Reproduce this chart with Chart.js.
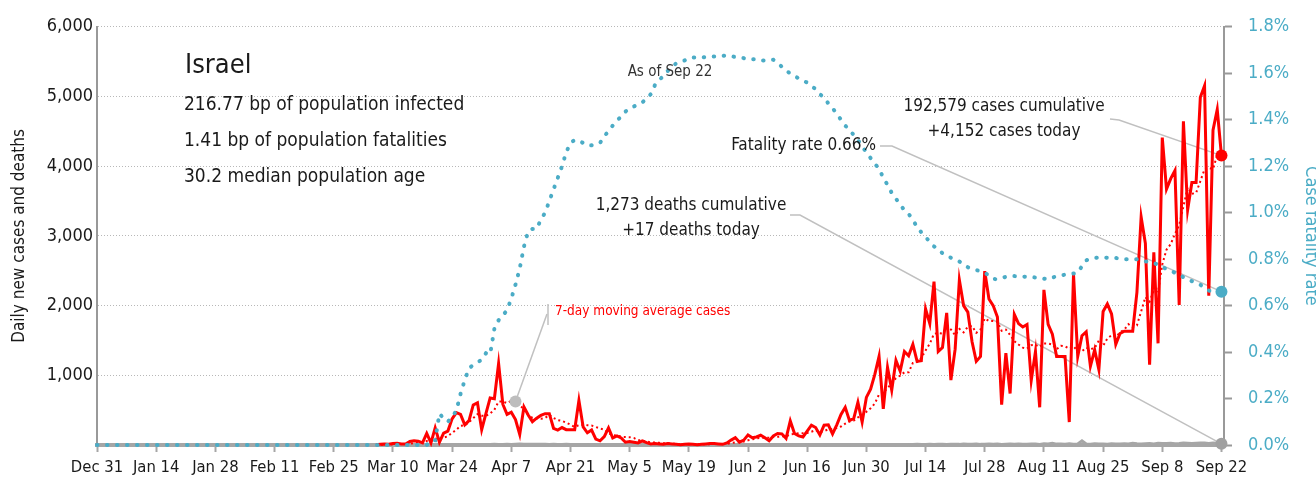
<!DOCTYPE html>
<html>
<head>
<meta charset="utf-8">
<title>Israel: daily new cases and deaths</title>
<script src="https://cdn.jsdelivr.net/npm/chart.js@4.4.0/dist/chart.umd.min.js"></script>
<style>
  html, body { margin: 0; padding: 0; background: #fff; }
  canvas { display: block; }
</style>
</head>
<body>
<canvas id="chart" width="1316" height="487"></canvas>
<script>
// x axis is a day count, day 0 = Dec 31
const tickDays = [0, 14, 28, 42, 56, 70, 84, 98, 112, 126, 140, 154, 168, 182, 196, 210, 224, 238, 252, 266];
const tickLabels = ['Dec 31', 'Jan 14', 'Jan 28', 'Feb 11', 'Feb 25', 'Mar 10', 'Mar 24', 'Apr 7', 'Apr 21', 'May 5',
  'May 19', 'Jun 2', 'Jun 16', 'Jun 30', 'Jul 14', 'Jul 28', 'Aug 11', 'Aug 25', 'Sep 8', 'Sep 22'];

// cases, moving average and deaths start on day 66 (Mar 6)
const seriesStart = 66;

const cases = [
  5, 10, 15, 10, 20, 25, 15, 15, 50, 60,
  55, 30, 167, 30, 245, 40, 170, 200, 375, 465,
  440, 290, 350, 575, 605, 220, 450, 675, 665, 1170,
  585, 440, 470, 365, 150, 545, 430, 335, 385, 425,
  450, 450, 240, 215, 250, 220, 220, 220, 640, 260,
  175, 215, 85, 60, 120, 245, 100, 130, 100, 40,
  50, 40, 30, 60, 35, 15, 20, 15, 10, 20,
  15, 10, 5, 10, 15, 10, 5, 10, 15, 20,
  20, 15, 10, 30, 70, 105, 40, 70, 145, 105,
  115, 140, 105, 60, 130, 165, 160, 95, 345, 165,
  130, 115, 200, 285, 250, 145, 285, 290, 160, 290,
  437, 540, 353, 377, 612, 330, 683, 800, 1012, 1270,
  518, 1115, 786, 1214, 1059, 1341, 1280, 1445, 1200, 1210,
  1953, 1741, 2344, 1341, 1398, 1896, 932, 1375, 2367, 2000,
  1906, 1482, 1200, 1270, 2494, 2094, 2000, 1835, 579, 1318,
  739, 1873, 1741, 1694, 1730, 927, 1341, 541, 2226, 1730,
  1590, 1270, 1270, 1270, 329, 2447, 1270, 1567, 1624, 1129,
  1365, 1082, 1915, 2024, 1880, 1445, 1600, 1633, 1633, 1633,
  2188, 3271, 2894, 1153, 2763, 1459, 4410, 3671, 3822, 3939,
  2009, 4645, 3374, 3765, 3765, 4988, 5153, 2142, 4518, 4814,
  4152,
];

const movingAvg = [
  1, 2, 4, 6, 9, 12, 14, 16, 21, 28,
  34, 36, 56, 58, 91, 90, 105, 126, 175, 218,
  276, 283, 327, 385, 443, 421, 419, 452, 506, 623,
  624, 601, 636, 624, 549, 532, 426, 391, 383, 376,
  389, 431, 388, 357, 345, 321, 292, 259, 286, 289,
  284, 279, 259, 236, 222, 166, 143, 136, 120, 114,
  112, 101, 70, 64, 51, 39, 36, 31, 26, 25,
  19, 15, 14, 12, 12, 12, 10, 9, 10, 12,
  14, 14, 14, 17, 26, 39, 41, 49, 67, 81,
  93, 103, 103, 106, 114, 117, 125, 122, 151, 160,
  170, 168, 173, 191, 213, 184, 201, 224, 231, 244,
  265, 307, 336, 350, 396, 420, 476, 528, 595, 726,
  746, 818, 883, 959, 996, 1043, 1045, 1177, 1189, 1250,
  1355, 1453, 1596, 1605, 1598, 1698, 1658, 1575, 1665, 1616,
  1696, 1708, 1609, 1657, 1817, 1778, 1778, 1768, 1639, 1656,
  1580, 1491, 1441, 1397, 1382, 1432, 1435, 1407, 1457, 1456,
  1441, 1375, 1424, 1414, 1384, 1415, 1349, 1346, 1397, 1377,
  1390, 1498, 1422, 1529, 1574, 1549, 1616, 1654, 1733, 1693,
  1716, 1915, 2122, 2058, 2219, 2194, 2591, 2803, 2882, 3031,
  3153, 3422, 3696, 3604, 3617, 3784, 3957, 3976, 3958, 4164,
  4219,
];

const deaths = [
  0, 0, 0, 0, 0, 0, 0, 0, 0, 0,
  0, 0, 0, 0, 1, 0, 0, 0, 1, 1,
  2, 3, 3, 4, 5, 4, 5, 6, 9, 8,
  8, 9, 7, 10, 14, 12, 10, 9, 11, 10,
  9, 8, 12, 7, 8, 9, 6, 5, 7, 4,
  5, 6, 4, 3, 5, 4, 2, 3, 3, 2,
  2, 1, 2, 3, 2, 1, 1, 0, 2, 1,
  1, 0, 1, 2, 0, 1, 0, 1, 0, 0,
  1, 0, 0, 1, 0, 1, 0, 0, 2, 1,
  0, 1, 0, 0, 1, 0, 1, 0, 2, 1,
  0, 1, 2, 1, 2, 1, 0, 2, 3, 2,
  3, 2, 1, 4, 3, 2, 4, 3, 5, 4,
  6, 5, 4, 7, 6, 8, 5, 7, 9, 6,
  8, 10, 7, 9, 12, 8, 10, 11, 9, 13,
  10, 12, 14, 9, 11, 13, 10, 15, 8, 12,
  14, 11, 16, 12, 10, 15, 13, 9, 17, 14,
  26, 13, 15, 11, 18, 12, 16, 60, 14, 12,
  17, 13, 15, 11, 18, 14, 16, 19, 15, 26,
  17, 14, 19, 21, 16, 24, 20, 22, 26, 18,
  21, 28, 24, 20, 25, 30, 27, 23, 29, 26,
  17,
];

// case fatality rate in percent, from day 0
const fatalityRate = [
  0, 0, 0, 0, 0, 0, 0, 0, 0, 0,
  0, 0, 0, 0, 0, 0, 0, 0, 0, 0,
  0, 0, 0, 0, 0, 0, 0, 0, 0, 0,
  0, 0, 0, 0, 0, 0, 0, 0, 0, 0,
  0, 0, 0, 0, 0, 0, 0, 0, 0, 0,
  0, 0, 0, 0, 0, 0, 0, 0, 0, 0,
  0, 0, 0, 0, 0, 0, 0, 0, 0, 0,
  0, 0, 0, 0, 0, 0, 0, 0, 0, 0.02,
  0.02, 0.135, 0.114, 0.10, 0.12, 0.148, 0.22, 0.28, 0.33, 0.345,
  0.355, 0.367, 0.395, 0.39, 0.50, 0.537, 0.558, 0.58, 0.63, 0.69,
  0.76, 0.854, 0.92, 0.93, 0.93, 0.97, 1.00, 1.05, 1.10, 1.15,
  1.20, 1.26, 1.30, 1.313, 1.31, 1.30, 1.289, 1.29, 1.295, 1.30,
  1.33, 1.35, 1.375, 1.395, 1.415, 1.435, 1.45, 1.457, 1.466, 1.475,
  1.49, 1.51, 1.55, 1.57, 1.59, 1.61, 1.625, 1.643, 1.65, 1.655,
  1.665, 1.668, 1.668, 1.668, 1.67, 1.672, 1.672, 1.674, 1.675, 1.677,
  1.674, 1.67, 1.668, 1.665, 1.66, 1.66, 1.66, 1.655, 1.655, 1.658,
  1.658, 1.645, 1.628, 1.61, 1.60, 1.588, 1.578, 1.568, 1.56, 1.545,
  1.532, 1.51, 1.495, 1.47, 1.45, 1.425, 1.40, 1.375, 1.355, 1.335,
  1.313, 1.285, 1.26, 1.235, 1.21, 1.19, 1.15, 1.12, 1.085, 1.06,
  1.035, 1.01, 0.995, 0.967, 0.94, 0.915, 0.895, 0.875, 0.855, 0.845,
  0.825, 0.815, 0.806, 0.80, 0.79, 0.777, 0.765, 0.758, 0.753, 0.748,
  0.741, 0.73, 0.715, 0.713, 0.718, 0.724, 0.726, 0.727, 0.726, 0.725,
  0.724, 0.723, 0.721, 0.72, 0.716, 0.713, 0.72, 0.727, 0.73, 0.733,
  0.734, 0.738, 0.741, 0.77, 0.795, 0.80, 0.805, 0.807, 0.807, 0.806,
  0.805, 0.805, 0.802, 0.80, 0.80, 0.80, 0.80, 0.796, 0.79, 0.788,
  0.784, 0.775, 0.765, 0.758, 0.75, 0.741, 0.733, 0.722, 0.713, 0.705,
  0.699, 0.69, 0.675, 0.665, 0.658, 0.66, 0.66,
];

const country = 'Israel';
const stats = ['216.77 bp of population infected', '1.41 bp of population fatalities', '30.2 median population age'];
const asOf = 'Sep 22';
const cumulativeCases = 192579;
const cumulativeDeaths = 1273;
const calloutDay = 99; // where the moving-average label points

const RED = '#ff0000';
const TEAL = '#4bacc6';
const GREY = '#a6a6a6';
const INK = '#1a1a1a';
const FONT = "'DejaVu Sans Condensed', 'Liberation Sans Narrow', sans-serif";

const lastDay = seriesStart + cases.length - 1;
const fmt = n => n.toLocaleString('en-US');
const fromStart = arr => arr.map((y, i) => ({ x: seriesStart + i, y }));
const endOnly = (n, r) => ctx => (ctx.index === n - 1 ? r : 0);

const line = (label, data, extra) => ({
  label,
  data,
  fill: false,
  tension: 0,
  clip: false,
  pointBorderWidth: 0,
  pointHoverRadius: 0,
  ...extra,
});

// leader lines under the data, text on top of everything
const annotations = {
  id: 'annotations',
  beforeDatasetsDraw(chart) {
    const { ctx, scales: { x, y, y1 } } = chart;
    const xEnd = x.getPixelForValue(lastDay);
    const path = (pts) => {
      ctx.beginPath();
      ctx.moveTo(pts[0][0], pts[0][1]);
      pts.slice(1).forEach(p => ctx.lineTo(p[0], p[1]));
      ctx.stroke();
    };
    ctx.save();
    ctx.strokeStyle = '#c0c0c0';
    ctx.lineWidth = 1.5;
    path([[1110, 119], [1119, 120], [xEnd, y.getPixelForValue(cases[cases.length - 1])]]);
    path([[880, 146], [892, 146], [xEnd, y1.getPixelForValue(fatalityRate[fatalityRate.length - 1])]]);
    path([[790, 215], [800, 215], [xEnd, y.getPixelForValue(deaths[deaths.length - 1])]]);
    path([[548, 304], [548, 325]]);
    path([[547, 314], [x.getPixelForValue(calloutDay), y.getPixelForValue(movingAvg[calloutDay - seriesStart])]]);
    ctx.restore();
  },
  afterDraw(chart) {
    const { ctx } = chart;
    const text = (str, px, py, size, align = 'left', color = INK) => {
      ctx.font = `${size}px ${FONT}`;
      ctx.fillStyle = color;
      ctx.textAlign = align;
      ctx.fillText(str, px, py);
    };
    ctx.save();
    ctx.textBaseline = 'middle';
    text(country, 185, 66, 27);
    stats.forEach((s, i) => text(s, 184, 105 + i * 36, 19));
    text('As of ' + asOf, 670, 72, 15, 'center', '#333');
    text(fmt(cumulativeCases) + ' cases cumulative', 1004, 107, 17, 'center');
    text('+' + fmt(cases[cases.length - 1]) + ' cases today', 1004, 132, 17, 'center');
    text('Fatality rate ' + fatalityRate[fatalityRate.length - 1].toFixed(2) + '%', 876, 146, 17, 'right');
    text(fmt(cumulativeDeaths) + ' deaths cumulative', 691, 206, 17, 'center');
    text('+' + fmt(deaths[deaths.length - 1]) + ' deaths today', 691, 231, 17, 'center');
    text('7-day moving average cases', 555, 311, 13.5, 'left', RED);
    ctx.restore();
  },
};

new Chart(document.getElementById('chart'), {
  type: 'line',
  data: {
    datasets: [
      line('Case fatality rate', fatalityRate.map((y, i) => ({ x: i, y })), {
        yAxisID: 'y1',
        borderColor: TEAL,
        borderWidth: 4,
        borderDash: [0.5, 9.5],
        borderCapStyle: 'round',
        pointRadius: endOnly(fatalityRate.length, 6),
        pointBackgroundColor: TEAL,
      }),
      line('7-day moving average cases', fromStart(movingAvg), {
        borderColor: RED,
        borderWidth: 2,
        borderDash: [2, 3],
        pointRadius: ctx => (ctx.index === calloutDay - seriesStart ? 6 : 0),
        pointBackgroundColor: '#bdbdbd',
      }),
      line('Daily new cases', fromStart(cases), {
        borderColor: RED,
        borderWidth: 3,
        borderJoinStyle: 'miter',
        pointRadius: endOnly(cases.length, 6),
        pointBackgroundColor: RED,
      }),
      line('Daily deaths', fromStart(deaths), {
        borderColor: GREY,
        borderWidth: 3,
        pointRadius: endOnly(deaths.length, 6),
        pointBackgroundColor: '#a0a0a0',
      }),
    ],
  },
  options: {
    responsive: false,
    animation: false,
    devicePixelRatio: 1,
    events: [],
    layout: { padding: { top: 20, left: 0, right: 0, bottom: 0 } },
    plugins: { legend: { display: false }, tooltip: { enabled: false } },
    scales: {
      x: {
        type: 'linear',
        min: 0,
        max: 266.6,
        afterBuildTicks: s => { s.ticks = tickDays.map(v => ({ value: v })); },
        afterFit: s => { s.height = 42; },
        grid: { drawOnChartArea: false, tickLength: 7, tickColor: GREY, tickWidth: 2 },
        border: { color: GREY, width: 4 },
        ticks: {
          autoSkip: false,
          maxRotation: 0,
          padding: 6,
          color: INK,
          font: { family: FONT, size: 16.5 },
          callback: (v, i) => tickLabels[i],
        },
      },
      y: {
        position: 'left',
        min: 0,
        max: 6000,
        afterFit: s => { s.width = 97; },
        grid: {
          drawTicks: false,
          lineWidth: 1,
          color: ctx => (ctx.tick && ctx.tick.value === 0 ? 'rgba(0,0,0,0)' : '#b8b8b8'),
        },
        border: { color: '#999', width: 2, dash: [1, 2] },
        ticks: {
          stepSize: 1000,
          padding: 4,
          color: INK,
          font: { family: FONT, size: 18 },
          callback: v => (v === 0 ? '' : fmt(v)),
        },
        title: {
          display: true,
          text: 'Daily new cases and deaths',
          color: INK,
          font: { family: FONT, size: 17 },
          padding: { top: 9, bottom: 0 },
        },
      },
      y1: {
        position: 'right',
        min: 0,
        max: 1.8,
        afterFit: s => { s.width = 92; },
        grid: { drawOnChartArea: false, tickLength: 8, tickColor: '#999', tickWidth: 2 },
        border: { color: '#999', width: 2 },
        ticks: {
          stepSize: 0.2,
          padding: 16,
          color: TEAL,
          font: { family: FONT, size: 18 },
          callback: v => v.toFixed(1) + '%',
        },
        title: {
          display: true,
          text: 'Case fatality rate',
          color: TEAL,
          font: { family: FONT, size: 18 },
          padding: { top: -5, bottom: 0 },
        },
      },
    },
  },
  plugins: [annotations],
});
</script>
</body>
</html>
